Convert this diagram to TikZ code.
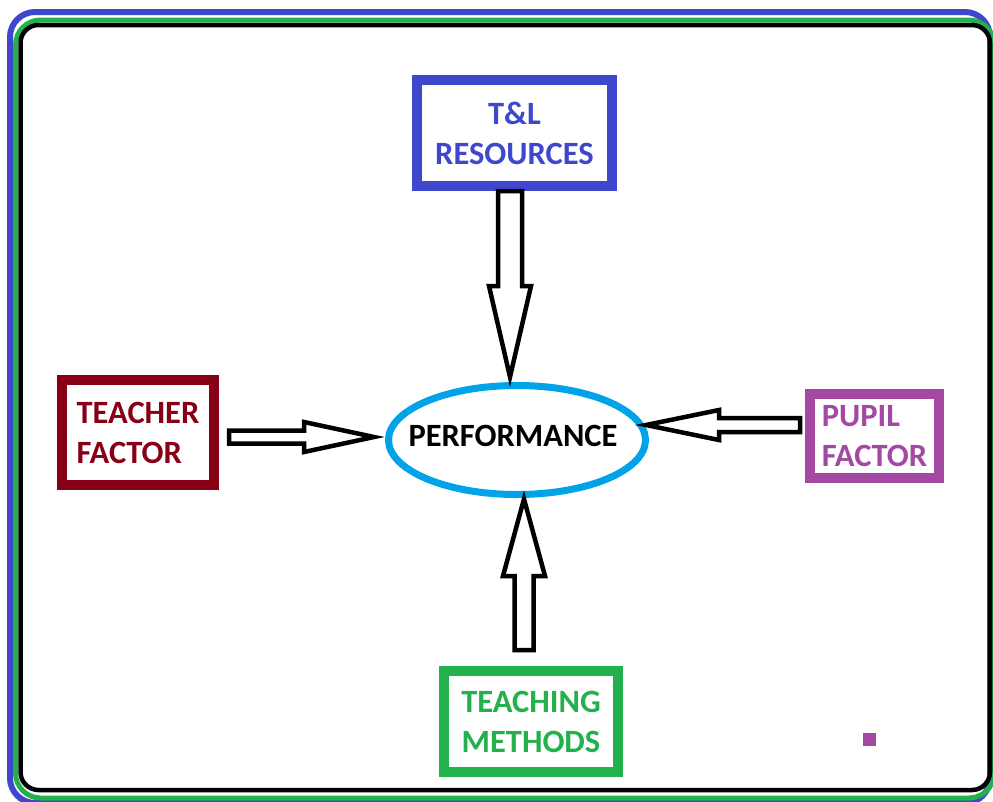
\documentclass[tikz,border=0pt]{standalone}
\usepackage{fontspec}
\setmainfont{Carlito}
\usetikzlibrary{calc, shapes.geometric}
\definecolor{tlblue}{RGB}{63,72,204}
\definecolor{methgreen}{RGB}{34,177,76}
\definecolor{teachred}{RGB}{136,0,21}
\definecolor{pupilpurple}{RGB}{163,73,164}
\definecolor{perfblue}{RGB}{0,162,232}

\tikzset{
  boxfont/.style={font=\bfseries\fontsize{32.5}{40}\selectfont},
  box/.style={draw, line width=10, inner sep=0, boxfont},
  fatline/.style={draw=black, fill=white, line width=4.5, line join=miter},
}

% hollow block arrow: from, to, shaft half width, head half width, head length
\newcommand{\fatarrow}[5]{%
  \draw[fatline] let \p1=($(#2)-(#1)$), \n1={atan2(\y1,\x1)}, \n2={veclen(\x1,\y1)} in
    [shift={(#1)}, rotate=\n1]
    (0,#3) -- ({\n2-#5},#3) -- ({\n2-#5},#4) -- (\n2,0) -- ({\n2-#5},-#4)
    -- ({\n2-#5},-#3) -- (0,-#3) -- cycle;}

\begin{document}
\begin{tikzpicture}[x=1pt, y=-1pt]
  \clip (0,0) rectangle (993,801);
  \fill[white] (0,0) rectangle (993,801);

  % frame
  \draw[tlblue, line width=6, rounded corners=25] (10,12) rectangle (990,803);
  \draw[methgreen, line width=5, rounded corners=25] (15.5,20) rectangle (994,798);
  \draw[black, line width=4.5, rounded corners=18] (20.5,25) rectangle (990,790);

  \node[ellipse, draw=perfblue, line width=7, minimum width=257, minimum height=109,
    inner sep=0, label={[boxfont, xshift=-4, yshift=4]center:PERFORMANCE}] (perf) at (517,440) {};

  \node[box, draw=tlblue, text=tlblue, align=center, minimum width=195, minimum height=106]
    (res) at (514.5,133) {T\&L\\RESOURCES};
  \node[box, draw=teachred, text=teachred, align=left, minimum width=152, minimum height=105]
    (teacher) at (138,432.5) {TEACHER\\FACTOR};
  \node[box, draw=pupilpurple, text=pupilpurple, align=left, minimum width=129, minimum height=84]
    (pupil) at (874.5,436) {PUPIL\\FACTOR};
  \node[box, draw=methgreen, text=methgreen, align=center, minimum width=174, minimum height=101]
    (meth) at (531,721.5) {TEACHING\\METHODS};

  \coordinate (perfN) at ($(perf.north)+(-7,-5)$);
  \coordinate (perfW) at ($(perf.west)+(-11,-3)$);
  \coordinate (perfE) at ($(perf.east)+(-3,-15)$);
  \coordinate (perfS) at ($(perf.south)+(7,1)$);
  \coordinate (teacherOut) at ($(teacher.east)+(10,4.5)$);
  \coordinate (pupilOut) at ($(pupil.west)+(-5,-11)$);
  \coordinate (methOut) at ($(meth.north)+(-7,-16)$);

  \fatarrow{res.south -| perfN}{perfN}{12}{21}{91}
  \fatarrow{teacherOut}{perfW |- teacherOut}{6.5}{15}{70}
  \fatarrow{pupilOut}{perfE |- pupilOut}{7}{15}{73}
  \fatarrow{methOut}{perfS -| methOut}{9.5}{21}{77}

  \fill[pupilpurple] (863,733) rectangle (876,746);
\end{tikzpicture}
\end{document}
